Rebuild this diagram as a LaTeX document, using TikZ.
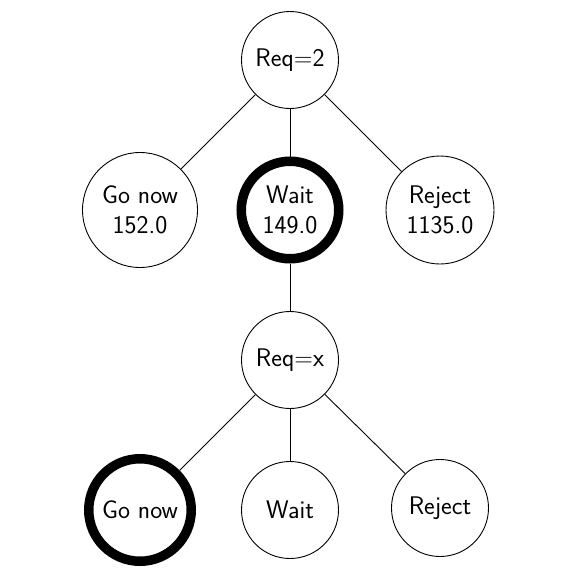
\documentclass[tikz,border=0pt]{standalone}
\begin{document}
\begin{tikzpicture}[x=1pt,y=-1pt,
  state/.style={circle,draw,line width=0.9pt,inner sep=0pt,align=center,font=\sffamily\fontsize{25.5}{30}\selectfont},
  best/.style={line width=9.5pt},
  conn/.style={line width=0.9pt}]
\useasboundingbox (0,0) rectangle (578,573);
\node[state,minimum size=97pt] (r2) at (290,60) {Req=2};
\node[state,minimum size=115pt] (g1) at (140,210) {Go now\\152.0};
\node[state,best,minimum size=97.5pt] (w1) at (290,210) {Wait\\149.0};
\node[state,minimum size=108pt] (j1) at (440,210) {Reject\\1135.0};
\node[state,minimum size=97pt] (rx) at (290,360) {Req=x};
\node[state,best,minimum size=102.5pt] (g2) at (140,510) {Go now};
\node[state,minimum size=97pt] (w2) at (290,510) {Wait};
\node[state,minimum size=97pt] (j2) at (440,508) {Reject};
\draw[conn] (r2) -- (g1);
\draw[conn] (r2) -- (w1);
\draw[conn] (r2) -- (j1);
\draw[conn] (w1) -- (rx);
\draw[conn] (rx) -- (g2);
\draw[conn] (rx) -- (w2);
\draw[conn] (rx) -- (j2);
\end{tikzpicture}
\end{document}
